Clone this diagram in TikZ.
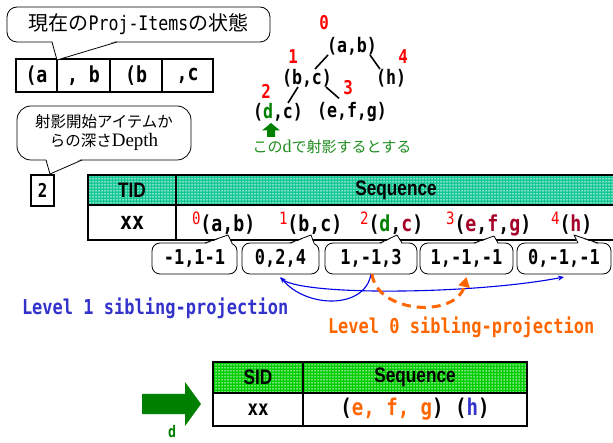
\documentclass[tikz,border=0pt]{standalone}
\usepackage{fontspec}
\usetikzlibrary{patterns.meta,arrows.meta}
\setmainfont{Liberation Sans}
\newfontfamily\jpfont{Noto Sans CJK JP}
\newfontfamily\gmono{DejaVu Sans Mono}[FakeStretch=0.83]
\newfontfamily\hdrfont{Liberation Sans}[FakeStretch=0.82]
\newfontfamily\seriffont{Liberation Serif}
\newcommand\fsz[1]{\fontsize{#1}{#1}\selectfont}

\definecolor{hdrteal}{RGB}{20,200,150}
\definecolor{hdrgreen}{RGB}{0,205,0}
\definecolor{numred}{RGB}{255,0,0}
\definecolor{itemred}{RGB}{165,0,40}
\definecolor{dgreen}{RGB}{0,128,0}
\definecolor{jgreen}{RGB}{30,140,30}
\definecolor{lblue}{RGB}{51,51,204}
\definecolor{arrblue}{RGB}{0,0,230}
\definecolor{lorange}{RGB}{255,102,0}

% superscript position number in front of an itemset
\newcommand\supnum[1]{\raisebox{7pt}{\textcolor{numred}{\mdseries\fsz{17}#1}}}
% pointer of a callout: left base x, right base x, edge y, inner y, tip
\newcommand\calltail[5]{%
  \fill[white] (#1,#4) -- #5 -- (#2,#4) -- cycle;
  \draw[callline] (#1,#3) -- #5 -- (#2,#3);}

\tikzset{
  tcell/.style={draw, line width=1.6pt, inner sep=0pt},
  hdr/.style={tcell, preaction={fill=#1},
    pattern={Dots[distance=3pt,radius=0.75pt]}, pattern color=white,
    font=\hdrfont\bfseries\fsz{21}},
  callbox/.style={draw, line width=0.8pt, fill=white, inner sep=0pt},
  callline/.style={line width=0.8pt, line join=round},
  rowtxt/.style={font=\gmono\bfseries\fsz{22}},
  rowcall/.style={callbox, rounded corners=8pt, minimum height=31pt,
    font=\gmono\bfseries\fsz{20.5}},
  treetxt/.style={font=\gmono\bfseries\fsz{20}},
  treenum/.style={font=\gmono\bfseries\fsz{19}, text=numred},
  treeedge/.style={line width=1.6pt},
  blarrow/.style={arrblue, line width=1.1pt, -{Stealth[length=6pt,width=5pt]}},
  orarrow/.style={lorange, line width=3pt, dash pattern=on 9pt off 6pt,
    -{Triangle[length=10pt,width=11pt]}},
  sgcell/.style={tcell, line width=1.8pt, minimum height=33pt,
    font=\gmono\bfseries\fsz{22}},
}

\begin{document}
\begin{tikzpicture}[x=1pt,y=-1pt, every node/.style={inner sep=0pt,outer sep=0pt}]
\useasboundingbox (0,0) rectangle (613,443);
\begin{scope}
\clip (0,0) rectangle (613,443);

% ---- current state of the projected items ----
\node[callbox, rounded corners=10pt, minimum width=263pt, minimum height=35pt,
      font=\jpfont\fsz{20}] (state) at (138.5,24.5) {現在の{\gmono Proj-Items}の状態};
\node[sgcell, minimum width=41pt] (s1) at (36.5,75.5) {(a};
\node[sgcell, minimum width=53pt] (s2) at (83.5,75.5) {, b};
\node[sgcell, minimum width=52pt] (s3) at (136,75.5) {(b};
\node[sgcell, minimum width=51pt] (s4) at (187.5,75.5) {,c};
\calltail{52}{117}{42}{40.5}{(57,60)}

% ---- depth from the projection start item ----
\node[callbox, rounded corners=14pt, minimum width=174pt, minimum height=54pt,
      align=center, font=\jpfont\fontsize{15.5}{19}\selectfont] (depthnote) at (104,133)
      {射影開始アイテムか\\らの深さ{\seriffont\fsz{19}Depth}};
\calltail{46}{82}{160}{158.5}{(50,174)}
\node[draw, line width=1.5pt, minimum width=23pt, minimum height=31pt,
      font=\gmono\bfseries\fsz{19}] (depth) at (42.5,190.5) {2};

% ---- item tree ----
\node[treetxt] (ab)  at (352,46)  {(a,b)};
\node[treetxt] (bc)  at (307,78)  {(b,c)};
\node[treetxt] (hh)  at (391,78)  {(h)};
\node[treetxt] (dc)  at (278,112) {(\textcolor{dgreen}{d},c)};
\node[treetxt] (efg) at (352,112) {(e,f,g)};
\node[treenum] (n0) at (324,23) {0};
\node[treenum] (n1) at (293,57) {1};
\node[treenum] (n4) at (403,57) {4};
\node[treenum] (n3) at (348,88) {3};
\node[treenum] (n2) at (266,91) {2};
\draw[treeedge] ([xshift=1pt]ab.south west) -- ([xshift=8pt]bc.north);
\draw[treeedge] ([xshift=-7pt]ab.south east) -- ([xshift=4pt]hh.north west);
\draw[treeedge] ([xshift=-6pt]bc.south east) -- ([xshift=22pt,yshift=4pt]efg.north west);
\draw[treeedge] ([xshift=-9pt]bc.south) -- ([xshift=10pt]dc.north);
\fill[dgreen] (271,123) -- (280,130.5) -- (275,130.5) -- (275,137) -- (267,137)
  -- (267,130.5) -- (262,130.5) -- cycle;
\node[text=jgreen] (dnote) at (332,147)
  {{\jpfont\fsz{15}この}{\seriffont\fsz{18}d}{\jpfont\fsz{15}で射影するとする}};

% ---- sequence table ----
\node[hdr=hdrteal, minimum width=88pt, minimum height=30pt] (tid) at (132,190) {TID};
\node[hdr=hdrteal, minimum width=440pt, minimum height=30pt] (seq) at (396,190) {Sequence};
\node[tcell, minimum width=88pt, minimum height=35pt, font=\gmono\bfseries\fsz{24}] (tx) at (132,222.5) {xx};
\node[tcell, minimum width=440pt, minimum height=35pt] (trow) at (396,222.5) {};

\node[rowtxt, anchor=base west] (r0) at (192,232) {\supnum{0}(a,b)};
\node[rowtxt, anchor=base west] (r1) at (279,232) {\supnum{1}(b,c)};
\node[rowtxt, anchor=base west] (r2) at (360,232)
  {\supnum{2}(\textcolor{dgreen}{d},\textcolor{itemred}{c})};
\node[rowtxt, anchor=base west] (r3) at (446,232)
  {\supnum{3}(\textcolor{itemred}{e},\textcolor{itemred}{f},\textcolor{itemred}{g})};
\node[rowtxt, anchor=base west] (r4) at (551,232) {\supnum{4}(\textcolor{itemred}{h})};

% ---- sibling pointers of each item ----
\node[rowcall, minimum width=85pt] (c1) at (194.5,258.5) {-1,1-1};
\node[rowcall, minimum width=77pt] (c2) at (280.5,258.5) {0,2,4};
\node[rowcall, minimum width=92pt] (c3) at (371,258.5) {1,-1,3};
\node[rowcall, minimum width=93pt] (c4) at (466.5,258.5) {1,-1,-1};
\node[rowcall, minimum width=94pt] (c5) at (564,258.5) {0,-1,-1};
\calltail{205}{232}{243}{244.5}{(228,235)}
\calltail{290}{314}{243}{244.5}{(311,235)}
\calltail{380}{402}{243}{244.5}{(397,235)}
\calltail{474}{498}{243}{244.5}{(494,236)}
\calltail{578}{598}{243}{244.5}{(574,235)}

\draw[blarrow] (c3.south) .. controls +(-6,36) and +(25,31) .. ([yshift=-3pt]c2.south);
\draw[blarrow] ([yshift=-4pt]c2.south) .. controls +(14,18) and +(-94,18) .. ([yshift=-3pt]c5.south);
\draw[orarrow] ([xshift=1pt]c3.south) .. controls +(5,40) and +(-10,41) .. ([yshift=-3pt]c4.south);

\node[anchor=west, font=\gmono\bfseries\fsz{20.5}, text=lblue] (lv1) at (22,308)
  {Level 1 sibling-projection};
\node[anchor=west, font=\gmono\bfseries\fsz{20.5}, text=lorange] (lv0) at (328,327)
  {Level 0 sibling-projection};

% ---- projected database ----
\fill[dgreen] (142,394) -- (185,394) -- (185,382) -- (201,404) -- (185,426)
  -- (185,414) -- (142,414) -- cycle;
\node[font=\gmono\bfseries\fsz{16}, text=dgreen] (dlabel) at (172,432) {d};

\node[hdr=hdrgreen, minimum width=90pt, minimum height=31pt] (sid) at (258,377.5) {SID};
\node[hdr=hdrgreen, minimum width=224pt, minimum height=31pt] (seq2) at (415,377.5) {Sequence};
\node[tcell, minimum width=90pt, minimum height=33pt, font=\gmono\bfseries\fsz{21}] (sx) at (258,409.5) {xx};
\node[tcell, minimum width=224pt, minimum height=33pt, font=\gmono\bfseries\fsz{23}] (srow) at (415,409.5)
  {(\textcolor{lorange}{e, f, g}) (\textcolor{lblue}{h})};
\end{scope}
\end{tikzpicture}
\end{document}
